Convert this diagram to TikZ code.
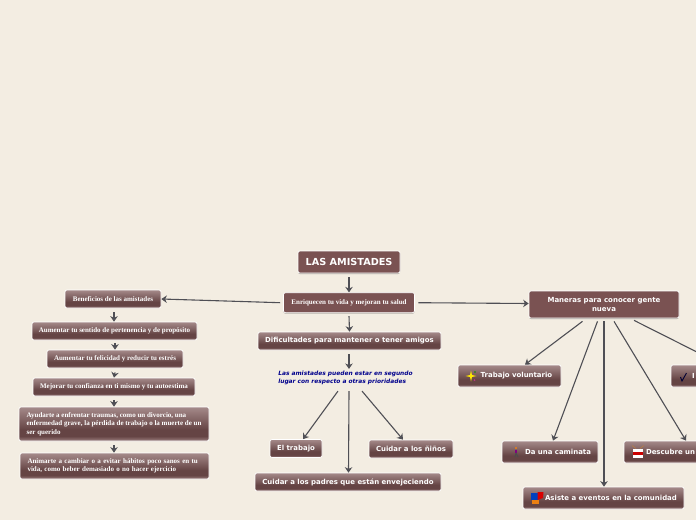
\documentclass[tikz,border=0pt]{standalone}
\usepackage{fontspec}
\setmainfont{DejaVu Sans}
\newfontfamily\serifbox{Liberation Serif}
\usetikzlibrary{positioning, arrows.meta, shadows}
\definecolor{paper}{HTML}{F3EDE2}
\definecolor{boxtop}{HTML}{A58A8A}
\definecolor{boxmid}{HTML}{654444}
\definecolor{boxlow}{HTML}{957878}
\definecolor{boxflat}{HTML}{7A5252}
\definecolor{linegray}{HTML}{4F4F55}
\pgfdeclareverticalshading{boxshade}{100bp}{color(0bp)=(boxlow); color(26bp)=(boxlow); color(32bp)=(boxmid); color(42bp)=(boxmid); color(75bp)=(boxtop); color(100bp)=(boxtop)}
\tikzset{
  softshadow/.style={drop shadow={shadow xshift=0pt, shadow yshift=-1pt, opacity=0.3, fill=black}},
  basebox/.style={rounded corners=2pt, draw=white, line width=0.7pt, text=white, align=center, inner sep=0pt, font=\bfseries\fontsize{6.95}{9}\selectfont},
  topic/.style={basebox, shading=boxshade, minimum height=18pt},
  iconbox/.style={topic, minimum height=22pt},
  leaf/.style={topic, font=\serifbox\bfseries\fontsize{7}{8.6}\selectfont, minimum height=18pt},
  wideleaf/.style={leaf, align=left},
  mainbox/.style={basebox, fill=boxflat, softshadow},
  link/.style={-{Stealth[length=5.5pt,width=7.5pt]}, color=linegray, line width=1.1pt},
}
\begin{document}
\begin{tikzpicture}[x=1pt, y=-1pt]
  \useasboundingbox (0,0) rectangle (696,520);
  \clip (0,0) rectangle (696,520);
  \fill[paper] (0,0) rectangle (696,520);

  % center column
  \node[mainbox, minimum width=102pt, minimum height=22pt, font=\bfseries\fontsize{9.7}{11}\selectfont] (title) at (349,262) {LAS AMISTADES};
  \node[mainbox, minimum width=131pt, minimum height=20pt, font=\serifbox\bfseries\fontsize{7}{8}\selectfont] (enrich) [below=19pt of title] {Enriquecen tu vida y mejoran tu salud};
  \node[topic, minimum width=183pt] (hard) at (349.5,341) {Dificultades para mantener o tener amigos};
  \node[text=blue!55!black, align=left, inner sep=0pt, font=\bfseries\itshape\fontsize{5.9}{8}\selectfont] (note) at (345.5,378) {Las amistades pueden estar en segundo\\lugar con respecto a otras prioridades};
  \node[topic, minimum width=52pt] (work) at (296,448.5) {El trabajo};
  \node[topic, minimum width=84pt] (kids) at (411,449) {Cuidar a los ñiños};
  \node[topic, minimum width=186pt] (parents) at (348,482) {Cuidar a los padres que están envejeciendo};

  % left column
  \node[leaf, minimum width=96pt] (benefit) at (113,299) {Beneficios de las amistades};
  \node[leaf, minimum width=165pt] (belong) at (114.5,331) {Aumentar tu sentido de pertenencia y de propósito};
  \node[leaf, minimum width=136pt] (happy) at (115,359) {Aumentar tu felicidad y reducir tu estrés};
  \node[leaf, minimum width=162pt] (trust) at (114,387) {Mejorar tu confianza en ti mismo y tu autoestima};
  \node[wideleaf, minimum width=190pt, minimum height=34pt] (trauma) at (114,424) {Ayudarte a enfrentar traumas, como un divorcio, una\\enfermedad grave, la pérdida de trabajo o la muerte de un\\ser querido};
  \node[wideleaf, text width=174pt, inner xsep=7.5pt, minimum height=26pt] (habit) at (114.5,466) {Animarte a cambiar o a evitar hábitos poco sanos en tu\\vida, como beber demasiado o no hacer ejercicio};

  % right side
  \node[mainbox, minimum width=150pt, minimum height=27pt, font=\bfseries\fontsize{7}{9}\selectfont] (ways) at (604,304.5) {Maneras para conocer gente\\nueva};
  \node[iconbox, minimum width=103pt] (volunteer) at (509.5,376) {\hspace{14pt}Trabajo voluntario};
  \node[iconbox, minimum width=96pt] (walk) at (550,452) {\hspace{16pt}Da una caminata};
  \node[iconbox, minimum width=161pt] (events) at (603.5,498) {\hspace{15pt}Asiste a eventos en la comunidad};
  \node[iconbox, align=left, text width=102pt, inner xsep=11pt] (discover) at (686,452) {\hspace*{11pt}Descubre un};
  \node[iconbox, align=left, text width=80pt, inner xsep=11pt] (check) at (722,376) {\hspace*{10pt}I};

  % icons
  \fill[yellow!90!orange] (471,370.5) -- (472,375) -- (476.5,376) -- (472,377) -- (471,381.5) -- (470,377) -- (465.5,376) -- (470,375) -- cycle;
  \fill[green!60!black] (475,372) circle (0.9pt);
  \fill[magenta!70!black] (474.5,380) circle (1pt);
  \draw[black!80!blue, line width=0.9pt] (680.5,377) -- (682,381) -- (686.5,373);
  \draw[violet, line width=1.4pt] (516,449.5) -- (516,453);
  \draw[black!70, line width=0.9pt] (516,453) -- (515,457) (516,453) -- (518,457);
  \fill[orange!70!brown] (516,448) circle (1.2pt);
  \fill[white] (633,448.5) rectangle (643,457.5);
  \fill[red!80!black] (633,452) rectangle (643,455);
  \draw[brown, line width=0.5pt] (632,445.5) -- (636,448.5) (644,445.5) -- (640,448.5);
  \fill[blue!50!teal] (531,492.5) rectangle (537.5,499.5);
  \fill[red!85!black] (537.5,492) -- (543.5,492) -- (543,498) -- (537.5,500) -- cycle;
  \fill[orange!70!brown] (532,499.5) rectangle (538.5,503.5);

  % connectors
  \path[link]
    ([yshift=-4pt]title.south) edge (enrich.north)
    ([yshift=-3pt]enrich.south) edge (hard.north)
    ([xshift=-0.5pt,yshift=-4pt]hard.south) edge ([xshift=3.5pt,yshift=2pt]note.north)
    ([xshift=-3pt]enrich.west) edge (benefit.east)
    ([xshift=3.5pt]enrich.east) edge ([yshift=1pt]ways.west)
    ([xshift=-7.5pt,yshift=-6pt]note.south) edge ([xshift=7pt]work.north)
    ([xshift=3.5pt,yshift=-6pt]note.south) edge ([xshift=0.5pt]parents.north)
    ([xshift=16.5pt,yshift=-6pt]note.south) edge ([xshift=-8pt]kids.north)
    ([xshift=1pt,yshift=-4pt]benefit.south) edge ([xshift=-0.5pt]belong.north)
    ([xshift=0.5pt,yshift=-3pt]belong.south) edge (happy.north)
    ([yshift=-4pt]happy.south) edge (trust.north)
    ([yshift=-4pt]trust.south) edge (trauma.north)
    ([yshift=-4pt]trauma.south) edge ([xshift=-0.5pt]habit.north)
    ([xshift=-21.5pt,yshift=-3pt]ways.south) edge ([xshift=15.5pt]volunteer.north)
    ([xshift=-6.5pt,yshift=-3pt]ways.south) edge ([xshift=3pt]walk.north)
    ([yshift=-3pt]ways.south) edge ([xshift=0.5pt]events.north)
    ([xshift=10pt,yshift=-3pt]ways.south) edge (discover.north)
    ([xshift=30pt,yshift=-2pt]ways.south) edge (check.north);
\end{tikzpicture}
\end{document}
